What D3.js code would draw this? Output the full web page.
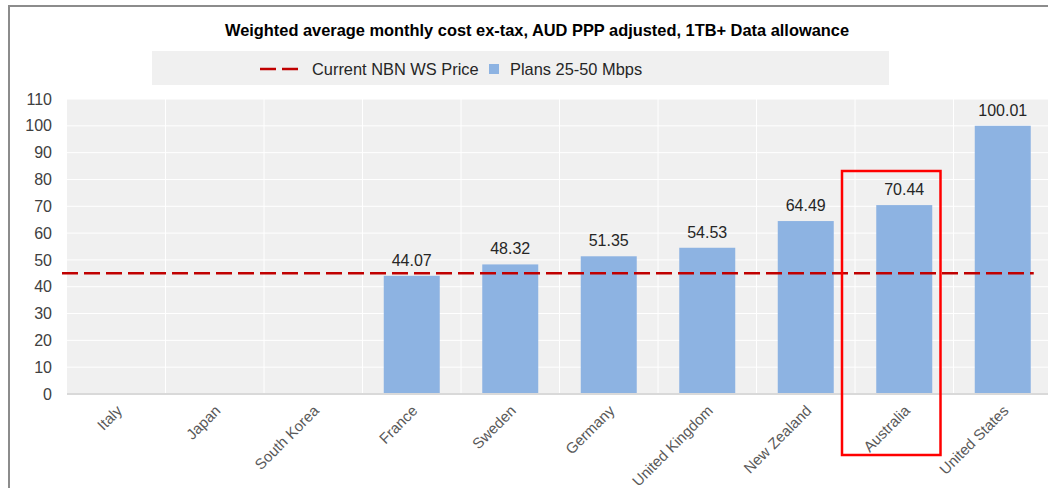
<!DOCTYPE html>
<html>
<head>
<meta charset="utf-8">
<script src="https://cdn.jsdelivr.net/npm/d3@7"></script>
<style>
  body { margin: 0; background: #fff; }
  svg { display: block; font-family: "Liberation Sans", Arial, sans-serif; }
</style>
</head>
<body>
<div id="chart"></div>
<script>
const countries = ["Italy", "Japan", "South Korea", "France", "Sweden", "Germany",
  "United Kingdom", "New Zealand", "Australia", "United States"];
const planCost = [null, null, null, 44.07, 48.32, 51.35, 54.53, 64.49, 70.44, 100.01];
const nbnPrice = 45;
const yTicks = [0, 10, 20, 30, 40, 50, 60, 70, 80, 90, 100, 110];
const highlight = "Australia";

const width = 1048, height = 488;
const margin = {top: 99, right: -4, bottom: 94, left: 67};

const svg = d3.select("#chart")
  .append("svg")
  .attr("width", width)
  .attr("height", height);

// outer frame
svg.append("path")
  .attr("d", `M9,${height} V6 H${width}`)
  .attr("fill", "none")
  .attr("stroke", "#8c8c8c")
  .attr("stroke-width", 2);

svg.append("text")
  .attr("x", 537)
  .attr("y", 36)
  .attr("text-anchor", "middle")
  .style("font-size", "16.4px")
  .style("font-weight", "bold")
  .attr("fill", "#000")
  .text("Weighted average monthly cost ex-tax, AUD PPP adjusted, 1TB+ Data allowance");

// legend
const legend = svg.append("g");
legend.append("rect")
  .attr("x", 152).attr("y", 51)
  .attr("width", 737).attr("height", 34)
  .attr("fill", "#f0f0f0");
legend.append("line")
  .attr("x1", 260).attr("x2", 298)
  .attr("y1", 69).attr("y2", 69)
  .attr("stroke", "#c00000")
  .attr("stroke-width", 2.5)
  .attr("stroke-dasharray", "16,6");
legend.append("text")
  .attr("x", 312).attr("y", 75)
  .style("font-size", "16.4px")
  .attr("fill", "#262626")
  .text("Current NBN WS Price");
legend.append("rect")
  .attr("x", 489).attr("y", 64)
  .attr("width", 10).attr("height", 10)
  .attr("fill", "#8db3e2");
legend.append("text")
  .attr("x", 510).attr("y", 75)
  .style("font-size", "16.4px")
  .attr("fill", "#262626")
  .text("Plans 25-50 Mbps");

const x = d3.scaleBand()
  .domain(countries)
  .range([margin.left, width - margin.right])
  .paddingInner(0)
  .paddingOuter(0);

const y = d3.scaleLinear()
  .domain([0, 110])
  .range([height - margin.bottom, margin.top]);

const plot = svg.append("g");

plot.append("rect")
  .attr("x", x.range()[0])
  .attr("y", y(110))
  .attr("width", x.range()[1] - x.range()[0])
  .attr("height", y(0) - y(110))
  .attr("fill", "#f0f0f0");

plot.append("g")
  .selectAll("line")
  .data(yTicks.slice(1))
  .join("line")
  .attr("x1", x.range()[0]).attr("x2", x.range()[1])
  .attr("y1", d => y(d)).attr("y2", d => y(d))
  .attr("stroke", "#fff")
  .attr("stroke-width", 1);

plot.append("g")
  .selectAll("line")
  .data(countries.slice(1))
  .join("line")
  .attr("x1", d => x(d)).attr("x2", d => x(d))
  .attr("y1", y(110)).attr("y2", y(0))
  .attr("stroke", "#fff")
  .attr("stroke-width", 1);

// y axis labels
const yAxis = svg.append("g")
  .attr("transform", `translate(${margin.left - 15},0)`)
  .call(d3.axisLeft(y).tickValues(yTicks).tickSize(0).tickPadding(0));
yAxis.select(".domain").remove();
yAxis.selectAll("text")
  .style("font-size", "16px")
  .style("font-family", "'Liberation Sans', Arial, sans-serif")
  .attr("fill", "#404040");

const barW = 56;
const bars = countries.map((c, i) => ({country: c, value: planCost[i]}))
  .filter(d => d.value != null);

plot.append("g")
  .selectAll("rect")
  .data(bars)
  .join("rect")
  .attr("x", d => x(d.country) + x.bandwidth() / 2 - barW / 2)
  .attr("y", d => y(d.value))
  .attr("width", barW)
  .attr("height", d => y(0) - y(d.value))
  .attr("fill", "#8db3e2");

plot.append("g")
  .selectAll("text")
  .data(bars)
  .join("text")
  .attr("x", d => x(d.country) + x.bandwidth() / 2)
  .attr("y", d => y(d.value) - 10)
  .attr("text-anchor", "middle")
  .style("font-size", "16px")
  .attr("fill", "#262626")
  .text(d => d.value.toFixed(2));

// x axis line
plot.append("line")
  .attr("x1", x.range()[0]).attr("x2", x.range()[1])
  .attr("y1", y(0)).attr("y2", y(0))
  .attr("stroke", "#d9d9d9")
  .attr("stroke-width", 2);

// NBN wholesale price line
const lineData = [
  [x.range()[0] - 5, nbnPrice],
  [x(countries[countries.length - 1]) + x.bandwidth() / 2 + 31, nbnPrice]
];
plot.append("path")
  .datum(lineData)
  .attr("d", d3.line().x(d => d[0]).y(d => y(d[1])))
  .attr("fill", "none")
  .attr("stroke", "#c00000")
  .attr("stroke-width", 2.5)
  .attr("stroke-dasharray", "16,6");

// x labels
svg.append("g")
  .selectAll("text")
  .data(countries)
  .join("text")
  .attr("transform", d => `translate(${x(d) + x.bandwidth() / 2 + 3},${y(0) + 14}) rotate(-45)`)
  .attr("text-anchor", "end")
  .attr("dy", "0.35em")
  .style("font-size", "15px")
  .attr("fill", "#595959")
  .text(d => d);

// highlight box
svg.append("rect")
  .attr("x", x(highlight) - 13)
  .attr("y", 171)
  .attr("width", x.bandwidth())
  .attr("height", 284)
  .attr("fill", "none")
  .attr("stroke", "#ff0000")
  .attr("stroke-width", 2.5);
</script>
</body>
</html>
